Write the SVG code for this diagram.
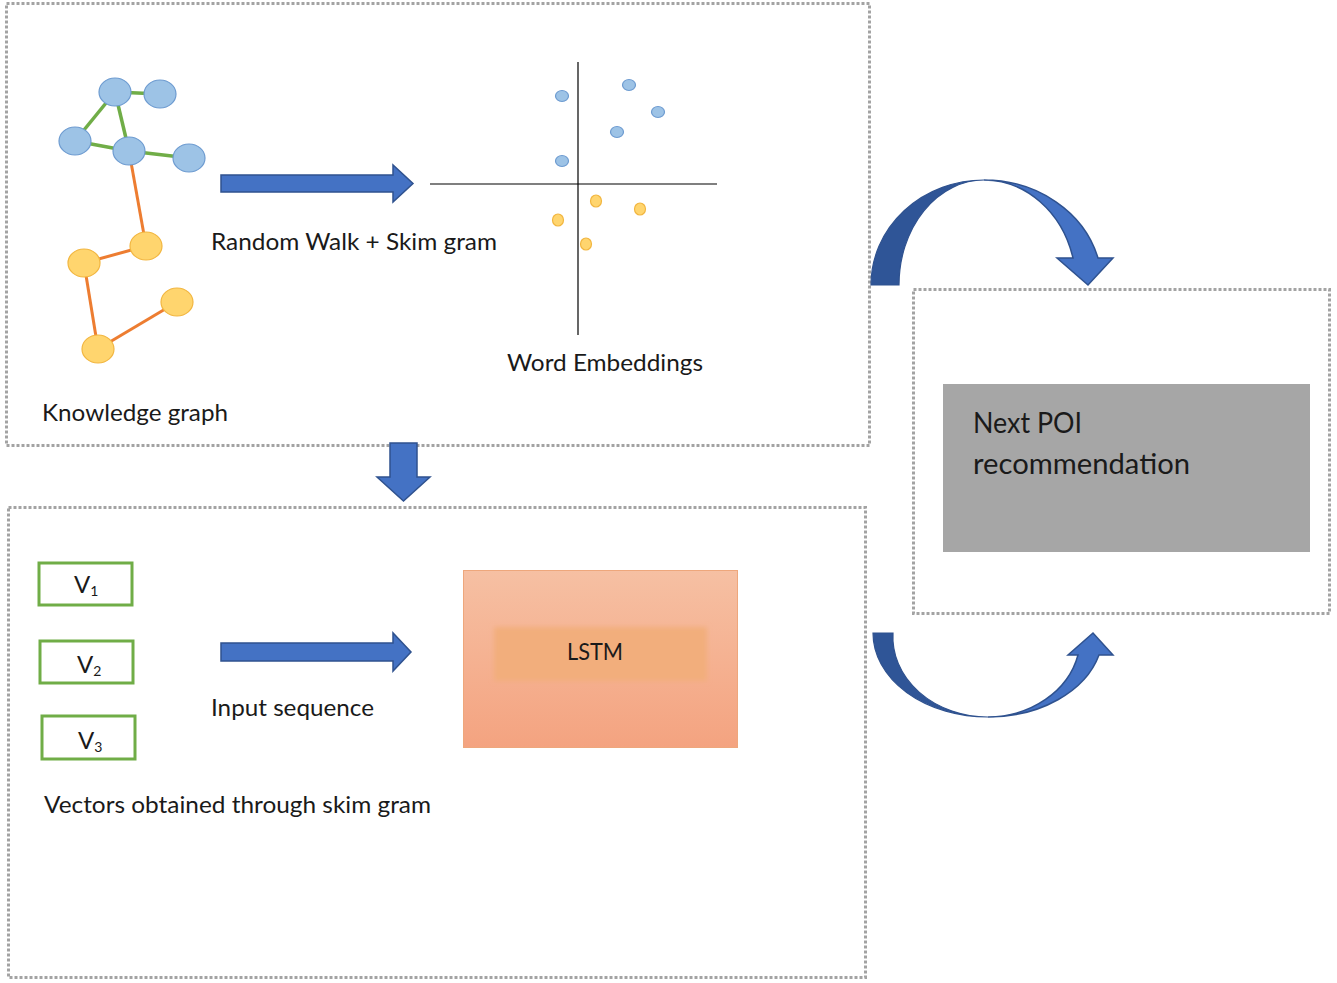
<svg xmlns="http://www.w3.org/2000/svg" width="1337" height="983" viewBox="0 0 1337 983">
  <style>
    .panel { fill: none; stroke: #a3a3a3; stroke-width: 3; stroke-dasharray: 3 2; }
    .lbl { font-family: Lato, "Open Sans", sans-serif; font-size: 24px; fill: #1a1a1a; }
    .big { font-family: Lato, "Open Sans", sans-serif; font-size: 28px; fill: #1a1a1a; }
    .bnode { fill: #9dc3e6; stroke: #6d9bd0; stroke-width: 1.2; }
    .onode { fill: #ffd56e; stroke: #f2b640; stroke-width: 1.2; }
    .gedge { stroke: #70ad47; stroke-width: 3.5; }
    .oedge { stroke: #ed7d31; stroke-width: 3; }
    .block { fill: #4472c4; stroke: #2f528f; stroke-width: 1.5; }
    .dark { fill: #2f5597; stroke: #2f528f; stroke-width: 1.2; }
    .vbox { fill: #ffffff; stroke: #70ad47; stroke-width: 3; }
    .axis { stroke: #000000; stroke-width: 1.2; }
  </style>
  <defs>
    <linearGradient id="lstmFill" x1="0" y1="0" x2="0" y2="1">
      <stop offset="0" stop-color="#f6c0a3"/>
      <stop offset="1" stop-color="#f4a380"/>
    </linearGradient>
    <filter id="soft" x="-10%" y="-20%" width="120%" height="140%">
      <feGaussianBlur stdDeviation="2.5"/>
    </filter>
  </defs>

  <rect width="1337" height="983" fill="#ffffff"/>

  <!-- panels -->
  <g id="panel-embedding">
    <rect class="panel" x="6.5" y="3.5" width="863" height="442"/>
  </g>
  <g id="panel-sequence">
    <rect class="panel" x="8.5" y="507.5" width="857" height="470"/>
  </g>
  <g id="panel-output">
    <rect class="panel" x="913.5" y="289.5" width="416" height="324"/>
  </g>

  <!-- knowledge graph -->
  <g id="knowledge-graph">
    <line class="gedge" x1="115" y1="92" x2="160" y2="94"/>
    <line class="gedge" x1="115" y1="92" x2="75" y2="141"/>
    <line class="gedge" x1="115" y1="92" x2="129" y2="151"/>
    <line class="gedge" x1="75" y1="141" x2="129" y2="151"/>
    <line class="gedge" x1="129" y1="151" x2="189" y2="158"/>
    <line class="oedge" x1="129" y1="151" x2="146" y2="246"/>
    <line class="oedge" x1="146" y1="246" x2="84" y2="263"/>
    <line class="oedge" x1="84" y1="263" x2="98" y2="349"/>
    <line class="oedge" x1="98" y1="349" x2="177" y2="302"/>
    <ellipse class="bnode" cx="115" cy="92" rx="16" ry="14"/>
    <ellipse class="bnode" cx="160" cy="94" rx="16" ry="14"/>
    <ellipse class="bnode" cx="75" cy="141" rx="16" ry="14"/>
    <ellipse class="bnode" cx="129" cy="151" rx="16" ry="14"/>
    <ellipse class="bnode" cx="189" cy="158" rx="16" ry="14"/>
    <ellipse class="onode" cx="146" cy="246" rx="16" ry="14"/>
    <ellipse class="onode" cx="84" cy="263" rx="16" ry="14"/>
    <ellipse class="onode" cx="177" cy="302" rx="16" ry="14"/>
    <ellipse class="onode" cx="98" cy="349" rx="16" ry="14"/>
    <text class="lbl" x="42" y="421" textLength="186" lengthAdjust="spacingAndGlyphs">Knowledge graph</text>
  </g>

  <!-- word embedding scatter -->
  <g id="word-embeddings">
    <line class="axis" x1="578" y1="62" x2="578" y2="335"/>
    <line class="axis" x1="430" y1="184" x2="717" y2="184"/>
    <ellipse class="bnode" cx="562" cy="96" rx="6.5" ry="5.5"/>
    <ellipse class="bnode" cx="629" cy="85" rx="6.5" ry="5.5"/>
    <ellipse class="bnode" cx="658" cy="112" rx="6.5" ry="5.5"/>
    <ellipse class="bnode" cx="617" cy="132" rx="6.5" ry="5.5"/>
    <ellipse class="bnode" cx="562" cy="161" rx="6.5" ry="5.5"/>
    <ellipse class="onode" cx="596" cy="201" rx="5.5" ry="6"/>
    <ellipse class="onode" cx="640" cy="209" rx="5.5" ry="6"/>
    <ellipse class="onode" cx="558" cy="220" rx="5.5" ry="6"/>
    <ellipse class="onode" cx="586" cy="244" rx="5.5" ry="6"/>
    <text class="lbl" x="507" y="371" textLength="196" lengthAdjust="spacingAndGlyphs">Word Embeddings</text>
  </g>

  <!-- input vectors -->
  <g id="vector-v1">
    <rect class="vbox" x="39" y="563" width="93" height="42"/>
    <text class="lbl" x="74" y="593" font-size="22">V<tspan font-size="14" dy="3">1</tspan></text>
  </g>
  <g id="vector-v2">
    <rect class="vbox" x="40" y="641" width="93" height="42"/>
    <text class="lbl" x="77" y="673" font-size="22">V<tspan font-size="14" dy="3">2</tspan></text>
  </g>
  <g id="vector-v3">
    <rect class="vbox" x="42" y="716" width="93" height="43"/>
    <text class="lbl" x="78" y="749" font-size="22">V<tspan font-size="14" dy="3">3</tspan></text>
  </g>
  <text class="lbl" x="44" y="813" textLength="387" lengthAdjust="spacingAndGlyphs">Vectors obtained through skim gram</text>

  <!-- LSTM -->
  <g id="lstm">
    <rect x="463.5" y="570.5" width="274" height="177" fill="url(#lstmFill)" stroke="#eea77c" stroke-width="1"/>
    <rect x="494" y="627" width="213" height="54" fill="#f2ae7c" filter="url(#soft)"/>
    <text class="lbl" x="567" y="660" textLength="56" lengthAdjust="spacingAndGlyphs">LSTM</text>
  </g>

  <!-- recommendation output -->
  <g id="next-poi">
    <rect x="943" y="384" width="367" height="168" fill="#a6a6a6"/>
    <text class="big" x="973" y="433" textLength="109" lengthAdjust="spacingAndGlyphs">Next POI</text>
    <text class="big" x="973" y="474" textLength="217" lengthAdjust="spacingAndGlyphs">recommendation</text>
  </g>

  <!-- connectors -->
  <g id="connectors">
    <!-- Random Walk + Skim gram -->
    <path class="block" d="M221,175 L393,175 L393,165 L413,183.5 L393,202 L393,192 L221,192 Z"/>
    <text class="lbl" x="211" y="250" textLength="286" lengthAdjust="spacingAndGlyphs">Random Walk + Skim gram</text>

    <!-- embeddings to sequence model -->
    <path class="block" d="M390,443 L417,443 L417,477 L430,477 L403.5,501 L377,477 L390,477 Z"/>

    <!-- Input sequence -->
    <path class="block" d="M221,643 L393,643 L393,633 L411,652 L393,671 L393,661 L221,661 Z"/>
    <text class="lbl" x="211" y="716" textLength="163" lengthAdjust="spacingAndGlyphs">Input sequence</text>

    <!-- curved arrow into output panel (top) -->
    <path class="dark" d="M871,285 A113,105 0 0 1 984,180 A85,105 0 0 0 899,285 Z"/>
    <path class="block" d="M984,180 A118,105 0 0 1 1098,258 L1113,258 L1088,285 L1057,258 L1073,258 A92,105 0 0 0 984,180 Z"/>

    <!-- curved arrow out of output panel (bottom) -->
    <path class="dark" d="M873,633 A115,84 0 0 0 988,717 A95,80 0 0 1 893,633 Z"/>
    <path class="block" d="M988,717 A115,84 0 0 0 1099,655 L1113,655 L1093,633 L1068,655 L1078,655 A93,80 0 0 1 988,717 Z"/>
  </g>
</svg>
